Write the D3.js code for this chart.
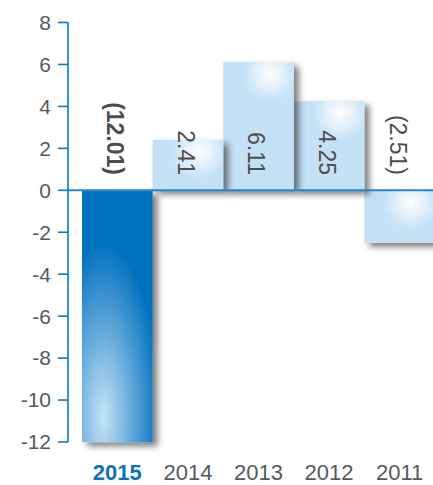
<!DOCTYPE html>
<html lang="en">
<head>
    <meta charset="UTF-8">
    <title>bar chart</title>
    <script src="https://d3js.org/d3.v7.min.js"></script>
    <style>
        body{ margin:0; background:#fff; }
        text{ font-family: "Liberation Sans", Arial, Helvetica, sans-serif; }
    </style>
</head>
<body>
<svg id="chart" width="433" height="485"></svg>

<script>
    // data
    let years = ["2015", "2014", "2013", "2012", "2011"]
    let values = [-12.01, 2.41, 6.11, 4.25, -2.51]
    let labels = ["(12.01)", "2.41", "6.11", "4.25", "(2.51)"]
    let yTicks = [8, 6, 4, 2, 0, -2, -4, -6, -8, -10, -12]

    let svg = d3.select("#chart")
    let y = d3.scaleLinear().domain([-12, 8]).range([442, 22.5])
    let x = d3.scaleBand().domain(years).range([82, 435]).padding(0)

    let defs = svg.append("defs")
    let shadow = defs.append("filter").attr("id", "shadow")
        .attr("x", "-20%").attr("y", "-20%").attr("width", "150%").attr("height", "150%")
    shadow.append("feDropShadow")
        .attr("dx", 5).attr("dy", 4).attr("stdDeviation", 3)
        .attr("flood-color", "#000").attr("flood-opacity", 0.5)

    // one gradient per bar
    years.forEach(function (yr, i) {
        let top = Math.min(y(values[i]), y(0))
        let bottom = Math.max(y(values[i]), y(0))
        let g = defs.append("radialGradient").attr("id", "grad" + i)
            .attr("gradientUnits", "userSpaceOnUse")
        if (i === 0) {
            let cx = x(yr) + x.bandwidth() * 0.3, cy = bottom - 25
            g.attr("cx", cx).attr("cy", cy).attr("r", 170)
                .attr("gradientTransform", "translate(" + cx + "," + cy + ") scale(0.33,1) translate(" + (-cx) + "," + (-cy) + ")")
            g.append("stop").attr("offset", "0").attr("stop-color", "#c6e2f6")
            g.append("stop").attr("offset", "1").attr("stop-color", "#0573c0")
        } else {
            let cx = x(yr) + x.bandwidth() * 0.66, cy = top + 12
            g.attr("cx", cx).attr("cy", cy).attr("r", 28)
            g.append("stop").attr("offset", "0").attr("stop-color", "#ffffff")
            g.append("stop").attr("offset", "1").attr("stop-color", "#c4e1f5")
        }
    })

    // bars, drawn right to left so shadows fall on the neighbour
    let order = d3.range(years.length).reverse()
    svg.append("g").selectAll("rect")
        .data(order)
        .join("rect")
        .attr("x", i => x(years[i]))
        .attr("y", i => Math.min(y(values[i]), y(0)))
        .attr("width", x.bandwidth())
        .attr("height", i => Math.abs(y(values[i]) - y(0)))
        .attr("fill", i => "url(#grad" + i + ")")
        .attr("filter", "url(#shadow)")

    // y axis
    let axis = svg.append("g")
    axis.append("line")
        .attr("x1", 68).attr("x2", 68)
        .attr("y1", y(8)).attr("y2", y(-12))
        .attr("stroke", "#0b78c8").attr("stroke-width", 1.6)
    axis.selectAll(".tick").data(yTicks).join("line")
        .attr("x1", 58).attr("x2", 68)
        .attr("y1", d => y(d)).attr("y2", d => y(d))
        .attr("stroke", "#0b78c8").attr("stroke-width", 1.6)
    axis.selectAll("text").data(yTicks).join("text")
        .attr("x", 51).attr("y", d => y(d)).attr("dy", "0.35em")
        .attr("text-anchor", "end")
        .attr("font-size", 21).attr("fill", "#58595b")
        .text(d => d)

    // zero line
    svg.append("line")
        .attr("x1", 68).attr("x2", 433)
        .attr("y1", y(0)).attr("y2", y(0))
        .attr("stroke", "#2a86cc").attr("stroke-width", 2)

    // value labels
    svg.append("g").selectAll("text")
        .data(years)
        .join("text")
        .attr("transform", (d, i) => "translate(" + (x(d) + x.bandwidth() / 2 - 2) + "," + 175 + ") rotate(90)")
        .attr("text-anchor", "end")
        .attr("dy", "0.35em")
        .attr("font-size", 23)
        .attr("font-weight", (d, i) => i === 0 ? "bold" : "normal")
        .attr("fill", "#4d4d4f")
        .text((d, i) => labels[i])

    // year labels
    svg.append("g").selectAll("text")
        .data(years)
        .join("text")
        .attr("x", d => x(d) + x.bandwidth() / 2)
        .attr("y", 480)
        .attr("text-anchor", "middle")
        .attr("font-size", 22)
        .attr("font-weight", (d, i) => i === 0 ? "bold" : "normal")
        .attr("fill", (d, i) => i === 0 ? "#0f72b9" : "#58595b")
        .text(d => d)
</script>
</body>
</html>
